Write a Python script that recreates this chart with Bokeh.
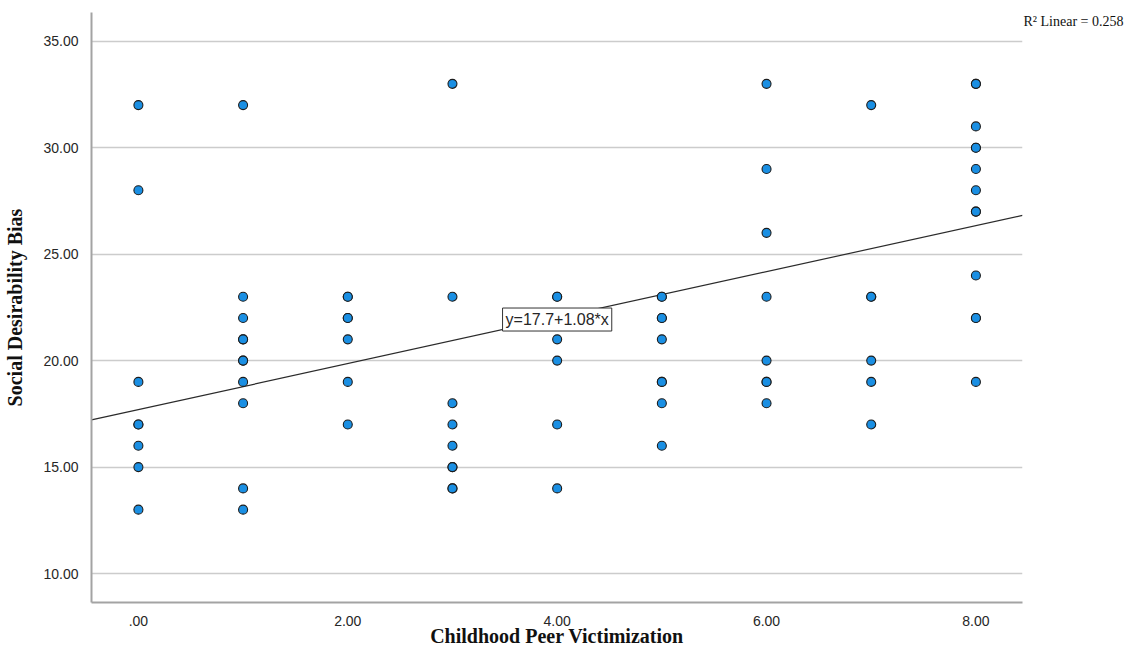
from bokeh.plotting import figure
from bokeh.models import Label, FixedTicker, Range1d, LinearAxis
from bokeh.embed import file_html
from bokeh.resources import INLINE

# ---- data ----
victim_0 = [32, 28, 19, 17, 17, 16, 15, 13]
victim_1 = [32, 23, 22, 21, 21, 20, 20, 19, 18, 14, 13]
victim_2 = [23, 23, 22, 22, 21, 19, 17]
victim_3 = [33, 23, 18, 17, 16, 15, 15, 14, 14]
victim_4 = [23, 23, 21, 20, 17, 14]
victim_5 = [23, 23, 22, 22, 21, 19, 19, 18, 16]
victim_6 = [33, 29, 26, 23, 20, 19, 19, 18]
victim_7 = [32, 23, 23, 20, 19, 17]
victim_8 = [33, 33, 31, 30, 30, 29, 28, 27, 27, 24, 22, 22, 19]
groups = [victim_0, victim_1, victim_2, victim_3, victim_4,
          victim_5, victim_6, victim_7, victim_8]

intercept = 17.7
slope = 1.08
r_squared_text = "R\u00b2 Linear = 0.258"
equation_text = "y=17.7+1.08*x"

x_ticks = [0, 2, 4, 6, 8]
x_tick_labels = [".00", "2.00", "4.00", "6.00", "8.00"]
y_ticks = [10, 15, 20, 25, 30, 35]
y_tick_labels = ["10.00", "15.00", "20.00", "25.00", "30.00", "35.00"]

x_title = "Childhood Peer Victimization"
y_title = "Social Desirability Bias"

xs, ys = [], []
for gx, vals in enumerate(groups):
    for v in vals:
        xs.append(gx)
        ys.append(v)

# ---- figure ----
x0, x1 = -0.448, 8.445
y0, y1 = 8.64, 36.35
p = figure(width=1126, height=649, output_backend="svg", toolbar_location=None,
           x_range=Range1d(x0, x1), y_range=Range1d(y0, y1),
           min_border_left=91, min_border_right=103, min_border_top=12,
           min_border_bottom=47)
p.outline_line_color = None
p.background_fill_color = "white"
p.border_fill_color = "white"

tick_font = "Liberation Sans"
serif = "Liberation Serif"
for ax, ticks, labels, standoff in ((p.xaxis, x_ticks, x_tick_labels, 7),
                                    (p.yaxis, y_ticks, y_tick_labels, 7)):
    ax.ticker = FixedTicker(ticks=ticks)
    ax.major_label_overrides = {t: l for t, l in zip(ticks, labels)}
    ax.major_tick_line_color = None
    ax.minor_tick_line_color = None
    ax.axis_line_color = "#a3a3a3"
    ax.axis_line_width = 2
    ax.major_label_text_font = tick_font
    ax.major_label_text_font_size = "14px"
    ax.major_label_text_color = "#262626"
    ax.major_label_standoff = standoff
    ax.axis_label_text_font = serif
    ax.axis_label_text_font_style = "bold"
    ax.axis_label_text_font_size = "20px"
    ax.axis_label_text_color = "#111111"

p.xaxis.axis_label = x_title
p.xaxis.axis_label_standoff = -4
p.yaxis.axis_label = y_title
p.yaxis.axis_label_standoff = 14

# right-hand axis carrying only the R^2 note next to the top of the plot
r_pos = 35.91
raxis = LinearAxis(ticker=FixedTicker(ticks=[r_pos]),
                   major_label_overrides={r_pos: r_squared_text},
                   axis_line_color=None, major_tick_line_color=None,
                   minor_tick_line_color=None, major_label_standoff=-5,
                   major_label_text_font=serif,
                   major_label_text_font_size="14px",
                   major_label_text_color="#111111")
p.add_layout(raxis, "right")

p.xgrid.grid_line_color = None
p.ygrid.ticker = FixedTicker(ticks=y_ticks)
p.ygrid.grid_line_color = "#cccccc"
p.ygrid.grid_line_width = 1.6

# regression line across the whole x range
p.line([x0, x1], [intercept + slope * x0, intercept + slope * x1],
       line_color="#2b2b2b", line_width=1.2)

p.scatter(xs, ys, size=9, fill_color="#1a8fe3", line_color="#1c1c1c",
          line_width=1.1)

# equation box
p.add_layout(Label(x=4.0, y=21.93, text=equation_text, text_align="center",
                   text_baseline="middle", text_font="Liberation Sans",
                   text_font_size="16px", text_color="#262626",
                   background_fill_color="white", border_line_color="#333333",
                   border_line_width=1, padding=3))

open("out.html", "w").write(file_html(p, INLINE))
